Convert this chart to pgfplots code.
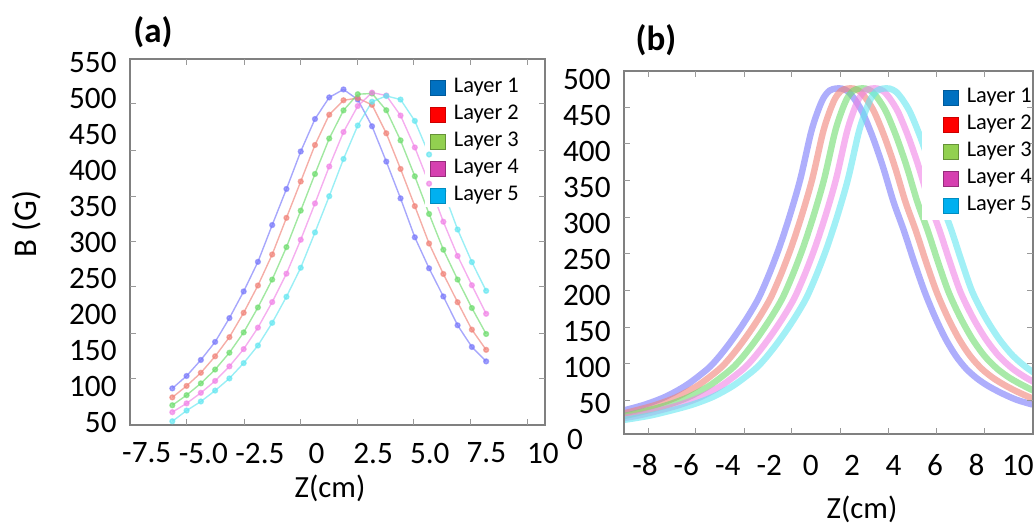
\documentclass[border=0pt]{standalone}
\usepackage{pgfplots}
\pgfplotsset{compat=1.18}
\usepackage{pgfplotstable}
\usepackage{fontspec}
\setmainfont{Carlito}

\definecolor{lg1}{RGB}{0,112,192}
\definecolor{lg2}{RGB}{255,0,0}
\definecolor{lg3}{RGB}{146,208,80}
\definecolor{lg4}{RGB}{214,64,176}
\definecolor{lg5}{RGB}{0,176,240}
\definecolor{ca1}{RGB}{120,120,250}
\definecolor{ca2}{RGB}{240,130,120}
\definecolor{ca3}{RGB}{110,220,110}
\definecolor{ca4}{RGB}{240,130,230}
\definecolor{ca5}{RGB}{100,230,240}

\pgfplotstableread{
x L1 L2 L3 L4 L5
-6.37 97.6 85.1 74.2 64.6 52
-5.74 114.8 101.0 88.2 76.8 66.8
-5.11 137 119.2 104.5 91.4 79.4
-4.48 162 142.0 123.7 107.9 94.5
-3.85 195 168.6 147.0 128.1 111.4
-3.22 232 202.4 175.2 152.0 132.6
-2.59 273 240.2 209.8 181.8 157.0
-1.96 324 283.2 248.4 217.2 188.4
-1.33 374 334.0 293.4 256.6 224.6
-0.70 426 384.4 344.0 303.6 264.8
-0.07 471 435.0 394.8 354.0 313.8
0.56 501 477.0 444.0 405.2 364.0
1.19 512 497 483.0 453.0 415.6
1.82 498 500 505.4 489.0 462.0
2.45 461 490.6 506.4 507.6 495.0
3.08 412 451.2 483.2 503.6 503
3.71 361 401.8 441.4 475.8 498
4.34 307 350.2 391.6 431.6 468.4
4.97 264 298.4 339.4 381.4 421.8
5.60 225 256.2 289.8 328.6 371.2
6.23 185 217.0 248.4 281.2 317.8
6.86 155 179.0 209.0 240.6 272.6
7.49 135 151.0 173.0 201.0 232.8
}\tabA

\pgfplotstableread{
x y
-12 24
-11 28
-10 33
-9 40
-8 48
-7 59
-6 75
-5 97
-4.5 112
-4 130
-3.5 150
-3 172
-2.5 197
-2 230
-1.5 268
-1 312
-0.5 362
0 425
0.3 453
0.6 474
0.9 485
1.2 488
1.5 488
1.8 484
2.1 474
2.5 455
3.0 420
3.5 378
4.0 330
4.5 290
5.0 246
5.5 205
6.0 170
6.5 140
7.0 116
7.5 98
8.0 85
8.5 75
9.0 67
9.5 60
10.0 54
10.7 48
}\tabBa

\pgfplotstableread{
x y
-11.425 24
-10.425 28
-9.425 33
-8.425 40
-7.425 48
-6.425 59
-5.425 75
-4.425 97
-3.925 112
-3.425 130
-2.925 150
-2.425 172
-1.925 197
-1.425 230
-0.925 268
-0.425 312
0.075 362
0.575 425
0.875 453
1.175 474
1.475 485
1.775 488
2.075 488
2.375 484
2.675 474
3.075 455
3.575 420
4.075 378
4.575 330
5.075 290
5.575 246
6.075 205
6.604 170
7.144 140
7.69 116
8.248 98
8.805 85
9.363 75
9.891 67
10.42 60
10.949 54
11.678 48
}\tabBb

\pgfplotstableread{
x y
-10.85 24
-9.85 28
-8.85 33
-7.85 40
-6.85 48
-5.85 59
-4.85 75
-3.85 97
-3.35 112
-2.85 130
-2.35 150
-1.85 172
-1.35 197
-0.85 230
-0.35 268
0.15 312
0.65 362
1.15 425
1.45 453
1.75 474
2.05 485
2.35 488
2.65 488
2.95 484
3.25 474
3.65 455
4.15 420
4.65 378
5.15 330
5.65 290
6.15 246
6.65 205
7.208 170
7.788 140
8.38 116
8.995 98
9.61 85
10.225 75
10.783 67
11.34 60
11.898 54
12.655 48
}\tabBc

\pgfplotstableread{
x y
-10.275 24
-9.275 28
-8.275 33
-7.275 40
-6.275 48
-5.275 59
-4.275 75
-3.275 97
-2.775 112
-2.275 130
-1.775 150
-1.275 172
-0.775 197
-0.275 230
0.225 268
0.725 312
1.225 362
1.725 425
2.025 453
2.325 474
2.625 485
2.925 488
3.225 488
3.525 484
3.825 474
4.225 455
4.725 420
5.225 378
5.725 330
6.225 290
6.725 246
7.225 205
7.811 170
8.432 140
9.07 116
9.743 98
10.415 85
11.088 75
11.674 67
12.26 60
12.846 54
13.633 48
}\tabBd

\pgfplotstableread{
x y
-9.7 24
-8.7 28
-7.7 33
-6.7 40
-5.7 48
-4.7 59
-3.7 75
-2.7 97
-2.2 112
-1.7 130
-1.2 150
-0.7 172
-0.2 197
0.3 230
0.8 268
1.3 312
1.8 362
2.3 425
2.6 453
2.9 474
3.2 485
3.5 488
3.8 488
4.1 484
4.4 474
4.8 455
5.3 420
5.8 378
6.3 330
6.8 290
7.3 246
7.8 205
8.415 170
9.076 140
9.76 116
10.49 98
11.22 85
11.95 75
12.565 67
13.18 60
13.795 54
14.61 48
}\tabBe

\pgfplotsset{
  sqleg/.style={legend image code/.code={\filldraw[##1, line width=0.3pt] (0pt,-3.8pt) rectangle (7.2pt,3.8pt);}},
  panel/.style={
    scale only axis, anchor=south west, axis on top,
    axis line style={black!50, line width=1.1pt},
    major tick length=0pt,
    tick label style={font=\fontsize{15.6}{17}\selectfont},
    /pgf/number format/assume math mode=true,
    xticklabel style={anchor=center},
    yticklabel style={anchor=east, inner sep=0pt, xshift=-6.5pt},
    extra x tick labels={}, extra y tick labels={},
    extra tick style={major tick length=3pt, tick style={black!40, line width=0.5pt}},
    legend cell align=left,
    legend style={draw=none, fill=none, inner sep=0pt, row sep=4pt,
      font=\fontsize{11.2}{13}\selectfont,
      nodes={inner sep=0pt, text height=7pt, text depth=2.5pt},
      /tikz/every odd column/.append style={column sep=4.2pt}},
  },
  la/.style={forget plot, line width=0.7pt, opacity=0.65, mark=*, mark size=1.2pt},
  lb/.style={forget plot, line width=3.2pt, opacity=0.6, smooth},
}

\begin{document}
\begin{tikzpicture}
\path[use as bounding box] (0,0) rectangle (518pt,262.5pt);

% ---------------- panel (a)
\begin{axis}[panel,
  at={(65pt,50pt)}, width=207.5pt, height=183pt,
  xmin=-8.24, xmax=10.09, ymin=46.8, ymax=554.2,
  xticklabel style={yshift=-14pt},
  xtick={-7.5,-5,-2.5,0,2.5,5,7.5,10},
  xticklabels={-7.5,-5.0,-2.5,0,2.5,5.0,7.5,10},
  ytick={50,100,...,550},
  yticklabels={50,100,150,200,250,300,350,400,450,500,550},
  extra x ticks={-5.73,-3.2,-0.7,1.8,4.3,6.8,9.3},
  extra y ticks={111.5,174,239,301,364,428,493},
  legend style={at={(rel axis cs:0.723,0.949)}, anchor=north west},
]
\addlegendimage{sqleg, fill=lg1, draw=lg1!80!black}
\addlegendentry{Layer 1}
\addlegendimage{sqleg, fill=lg2, draw=lg2!80!black}
\addlegendentry{Layer 2}
\addlegendimage{sqleg, fill=lg3, draw=lg3!70!black}
\addlegendentry{Layer 3}
\addlegendimage{sqleg, fill=lg4, draw=lg4!70!black}
\addlegendentry{Layer 4}
\addlegendimage{sqleg, fill=lg5, draw=lg5!80!black}
\addlegendentry{Layer 5}
\addplot[la, ca1] table[x=x, y=L1] {\tabA};
\addplot[la, ca2] table[x=x, y=L2] {\tabA};
\addplot[la, ca3] table[x=x, y=L3] {\tabA};
\addplot[la, ca4] table[x=x, y=L4] {\tabA};
\addplot[la, ca5] table[x=x, y=L5] {\tabA};
\fill[white] (rel axis cs:0.711,0.975) rectangle (rel axis cs:0.996,0.596);
\end{axis}

% ---------------- panel (b)
\begin{axis}[panel,
  at={(312pt,45.5pt)}, width=204.5pt, height=181.5pt,
  xmin=-9.01, xmax=10.73, ymin=7, ymax=512.5,
  xticklabel style={yshift=-15.5pt},
  xtick={-8,-6,-4,-2,0,2,4,6,8,10},
  xticklabels={-8,-6,-4,-2,0,2,4,6,8,10},
  ytick={50,100,...,500},
  yticklabels={50,100,150,200,250,300,350,400,450,500},
  extra x ticks={-7.84,-5.54,-3.18,-0.93,1.44,3.74,6.07,8.40},
  extra y ticks={54,105,156,207,258,309,360,411,462},
  legend style={at={(rel axis cs:0.780,0.954)}, anchor=north west},
]
\addlegendimage{sqleg, fill=lg1, draw=lg1!80!black}
\addlegendentry{Layer 1}
\addlegendimage{sqleg, fill=lg2, draw=lg2!80!black}
\addlegendentry{Layer 2}
\addlegendimage{sqleg, fill=lg3, draw=lg3!70!black}
\addlegendentry{Layer 3}
\addlegendimage{sqleg, fill=lg4, draw=lg4!70!black}
\addlegendentry{Layer 4}
\addlegendimage{sqleg, fill=lg5, draw=lg5!80!black}
\addlegendentry{Layer 5}
\addplot[lb, ca1] table {\tabBa};
\addplot[lb, ca2] table {\tabBb};
\addplot[lb, ca3] table {\tabBc};
\addplot[lb, ca4] table {\tabBd};
\addplot[lb, ca5] table {\tabBe};
\fill[white] (rel axis cs:0.729,0.981) rectangle (rel axis cs:0.996,0.590);
\end{axis}

% ---------------- texts
\node[font=\bfseries\fontsize{17.5}{19}\selectfont] at (76.5pt,246.5pt) {(a)};
\node[font=\bfseries\fontsize{17.5}{19}\selectfont] at (328pt,242.5pt) {(b)};
\node[rotate=90, font=\fontsize{16.5}{18}\selectfont] at (13.5pt,150.5pt) {B (G)};
\node[font=\fontsize{15.4}{17}\selectfont] at (165pt,18.5pt) {Z(cm)};
\node[font=\fontsize{15.4}{17}\selectfont] at (431pt,8pt) {Z(cm)};
\node[font=\fontsize{15.6}{17}\selectfont] at (287.5pt,43pt) {0};
\end{tikzpicture}
\end{document}
